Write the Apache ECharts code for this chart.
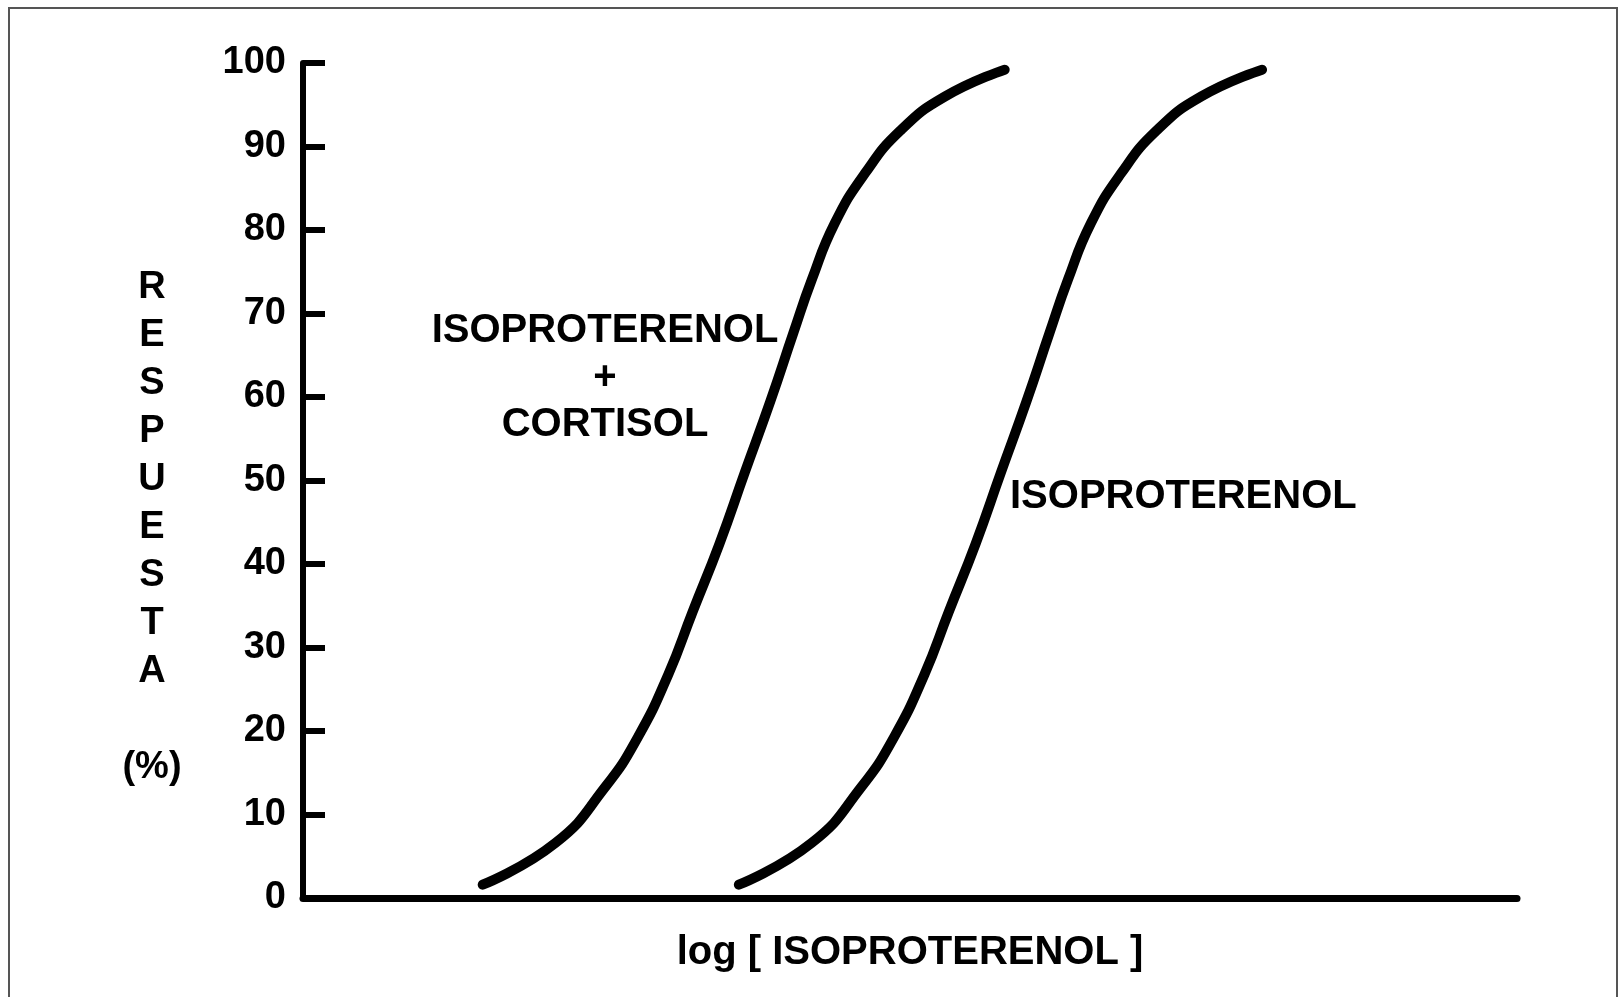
<!DOCTYPE html>
<html>
<head>
<meta charset="utf-8">
<title>Respuesta vs log [ ISOPROTERENOL ]</title>
<script src="https://cdn.jsdelivr.net/npm/echarts@6/dist/echarts.min.js"></script>
<style>
    html, body { margin: 0; padding: 0; background: #fff; }
    #chart { width: 1619px; height: 997px; }
</style>
</head>
<body>
<div id="chart"></div>
<script>
// 横轴 log[ISOPROTERENOL] 没有刻度，这里用 0~100 的相对单位
// 两条曲线的纵坐标（响应 %）
let respuestaY = [1.6, 6.6, 13.3, 19.3, 26.8, 34.3, 42.4, 51.0, 59.5, 67.7, 74.0, 80.8, 86.8, 91.9, 96.0, 99.2];
// 曲线1：ISOPROTERENOL + CORTISOL
let cortisolX = [14.8, 20.8, 24.9, 27.6, 30.1, 32.1, 34.3, 36.4, 38.5, 40.4, 41.9, 43.8, 46.3, 49.2, 52.9, 57.8];
// 曲线2：ISOPROTERENOL
let isoX = [35.9, 41.9, 46.0, 48.7, 51.2, 53.2, 55.4, 57.5, 59.6, 61.5, 63.0, 64.9, 67.4, 70.3, 74.0, 79.0];

// 纵轴刻度
let yMin = 0;
let yMax = 100;
let yStep = 10;

// 文本
let yNameLines = ['R', 'E', 'S', 'P', 'U', 'E', 'S', 'T', 'A', '', '(%)'];
let xName = 'log [ ISOPROTERENOL ]';
let labelCortisol = ['ISOPROTERENOL', '+', 'CORTISOL'];
let labelIso = 'ISOPROTERENOL';

let fontFamily = "'Liberation Sans', Arial, sans-serif";

let myChart = echarts.init(document.getElementById('chart'));

let option = {
    animation: false,
    backgroundColor: '#fff',
    textStyle: { fontFamily: fontFamily, color: '#000' },
    grid: { left: 303, right: 102, top: 63, bottom: 99 },
    xAxis: {
        type: 'value',
        min: 0,
        max: 100,
        name: xName,
        nameLocation: 'middle',
        nameGap: 35,
        nameTextStyle: { fontSize: 40, fontWeight: 'bold', color: '#000', fontFamily: fontFamily },
        axisLine: { show: true, lineStyle: { color: '#000', width: 7 } },
        axisTick: { show: false },
        axisLabel: { show: false },
        splitLine: { show: false }
    },
    yAxis: {
        type: 'value',
        min: yMin,
        max: yMax,
        interval: yStep,
        axisLine: { show: true, lineStyle: { color: '#000', width: 6 } },
        axisTick: { show: true, inside: true, length: 22, lineStyle: { color: '#000', width: 6 } },
        axisLabel: {
            fontSize: 38, fontWeight: 'bold', color: '#000', margin: 17,
            padding: [6, 0, 0, 0], fontFamily: fontFamily
        },
        splitLine: { show: false }
    },
    series: [
        {
            name: 'ISOPROTERENOL + CORTISOL',
            type: 'line',
            smooth: 0.5,
            showSymbol: false,
            lineStyle: { color: '#000', width: 10, cap: 'round' },
            data: cortisolX.map((x, i) => [x, respuestaY[i]])
        },
        {
            name: 'ISOPROTERENOL',
            type: 'line',
            smooth: 0.5,
            showSymbol: false,
            lineStyle: { color: '#000', width: 10, cap: 'round' },
            data: isoX.map((x, i) => [x, respuestaY[i]])
        }
    ],
    graphic: [
        // 外边框
        {
            type: 'rect',
            silent: true,
            shape: { x: 9, y: 8, width: 1608, height: 1000 },
            style: { fill: 'none', stroke: '#555', lineWidth: 2 }
        },
        // 纵轴标题（竖排）
        {
            type: 'text',
            position: [152, 528],
            style: {
                text: yNameLines.join('\n'),
                font: 'bold 38px ' + fontFamily,
                fill: '#000',
                lineHeight: 48,
                align: 'center',
                verticalAlign: 'middle'
            }
        },
        // 曲线标注
        {
            type: 'text',
            position: [605, 378],
            style: {
                text: labelCortisol.join('\n'),
                font: 'bold 40px ' + fontFamily,
                fill: '#000',
                lineHeight: 47,
                align: 'center',
                verticalAlign: 'middle'
            }
        },
        {
            type: 'text',
            position: [1010, 497],
            style: {
                text: labelIso,
                font: 'bold 40px ' + fontFamily,
                fill: '#000',
                align: 'left',
                verticalAlign: 'middle'
            }
        }
    ]
};

myChart.setOption(option);
</script>
</body>
</html>
